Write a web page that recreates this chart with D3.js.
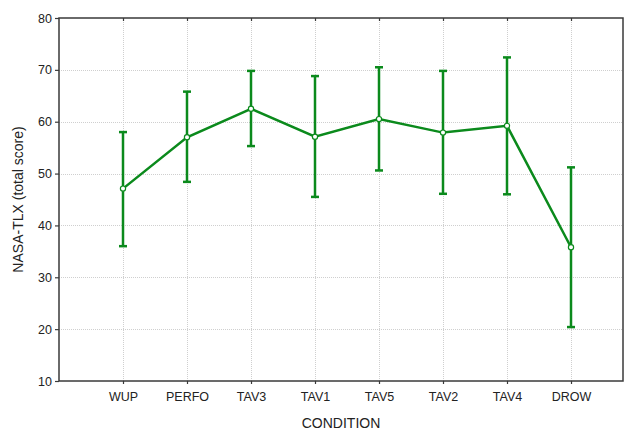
<!DOCTYPE html>
<html>
<head>
<meta charset="utf-8">
<script src="https://cdn.jsdelivr.net/npm/d3@7/dist/d3.min.js"></script>
<style>
  html, body { margin: 0; padding: 0; background: #fff; }
  svg { display: block; font-family: "Liberation Sans", Arial, sans-serif; }
</style>
</head>
<body>
<svg id="chart" width="625" height="430"></svg>
<script>
// NASA-TLX total score by condition: means with error bars
const conditions = ["WUP", "PERFO", "TAV3", "TAV1", "TAV5", "TAV2", "TAV4", "DROW"];
const means      = [47.1, 57.0, 62.5, 57.1, 60.5, 57.9, 59.2, 35.8];
const upper      = [58.0, 65.8, 69.8, 68.8, 70.5, 69.8, 72.4, 51.2];
const lower      = [36.0, 48.4, 55.3, 45.5, 50.6, 46.1, 46.0, 20.4];
const yTicks     = [10, 20, 30, 40, 50, 60, 70, 80];

const rows = conditions.map((c, i) => ({ c, m: means[i], hi: upper[i], lo: lower[i] }));

const svg = d3.select("#chart");
const plot = { left: 59, right: 623, top: 18, bottom: 381 };

const x = d3.scalePoint().domain(conditions).range([123, 571]);
const y = d3.scaleLinear().domain([10, 80]).range([plot.bottom, plot.top]);

const green = "#0b8a1c";

// dotted grid
const grid = svg.append("g").attr("stroke", "#cfcfcf").attr("stroke-width", 1)
  .attr("stroke-dasharray", "1,1");
grid.selectAll("line.h").data(yTicks.slice(1, -1)).join("line")
  .attr("x1", plot.left).attr("x2", plot.right)
  .attr("y1", d => Math.round(y(d)) + 0.5).attr("y2", d => Math.round(y(d)) + 0.5);
grid.selectAll("line.v").data(conditions).join("line")
  .attr("x1", d => Math.round(x(d)) + 0.5).attr("x2", d => Math.round(x(d)) + 0.5)
  .attr("y1", plot.top).attr("y2", plot.bottom);

// frame
svg.append("rect")
  .attr("x", plot.left).attr("y", plot.top)
  .attr("width", plot.right - plot.left).attr("height", plot.bottom - plot.top)
  .attr("fill", "none").attr("stroke", "#3a3a3a").attr("stroke-width", 1.5);

// axes
const axisStyle = g => {
  g.select(".domain").remove();
  g.selectAll(".tick line").attr("stroke", "#3a3a3a").attr("stroke-width", 1.2);
  g.selectAll(".tick text").attr("fill", "#222").style("font-size", "12.5px")
    .style("font-family", "'Liberation Sans', Arial, sans-serif");
};
svg.append("g").attr("transform", `translate(${plot.left},0)`)
  .call(d3.axisLeft(y).tickValues(yTicks).tickSize(4).tickPadding(3))
  .call(axisStyle);
svg.append("g").attr("transform", `translate(0,${plot.bottom})`)
  .call(d3.axisBottom(x).tickSize(3).tickPadding(8))
  .call(axisStyle);
svg.append("g").attr("transform", `translate(0,${plot.top})`)
  .call(d3.axisBottom(x).tickSize(3).tickFormat(""))
  .call(axisStyle);

// axis titles
svg.append("text")
  .attr("x", (plot.left + plot.right) / 2).attr("y", 428)
  .attr("text-anchor", "middle").attr("fill", "#222")
  .style("font-size", "14px").text("CONDITION");
svg.append("text")
  .attr("transform", `translate(23,${(plot.top + plot.bottom) / 2}) rotate(-90)`)
  .attr("text-anchor", "middle").attr("fill", "#222")
  .style("font-size", "14px").text("NASA-TLX (total score)");

// error bars
const eb = svg.append("g").attr("stroke", green).attr("stroke-width", 2.5);
eb.selectAll("line.bar").data(rows).join("line")
  .attr("x1", d => x(d.c)).attr("x2", d => x(d.c))
  .attr("y1", d => y(d.lo)).attr("y2", d => y(d.hi));
eb.selectAll("line.capHi").data(rows).join("line")
  .attr("x1", d => x(d.c) - 4).attr("x2", d => x(d.c) + 4)
  .attr("y1", d => y(d.hi)).attr("y2", d => y(d.hi));
eb.selectAll("line.capLo").data(rows).join("line")
  .attr("x1", d => x(d.c) - 4).attr("x2", d => x(d.c) + 4)
  .attr("y1", d => y(d.lo)).attr("y2", d => y(d.lo));

// mean line
svg.append("path").datum(rows)
  .attr("fill", "none").attr("stroke", green).attr("stroke-width", 2.5)
  .attr("d", d3.line().x(d => x(d.c)).y(d => y(d.m)));

// markers
svg.append("g").selectAll("circle").data(rows).join("circle")
  .attr("cx", d => x(d.c)).attr("cy", d => y(d.m)).attr("r", 2.6)
  .attr("fill", "#fff").attr("stroke", green).attr("stroke-width", 1.2);
</script>
</body>
</html>
